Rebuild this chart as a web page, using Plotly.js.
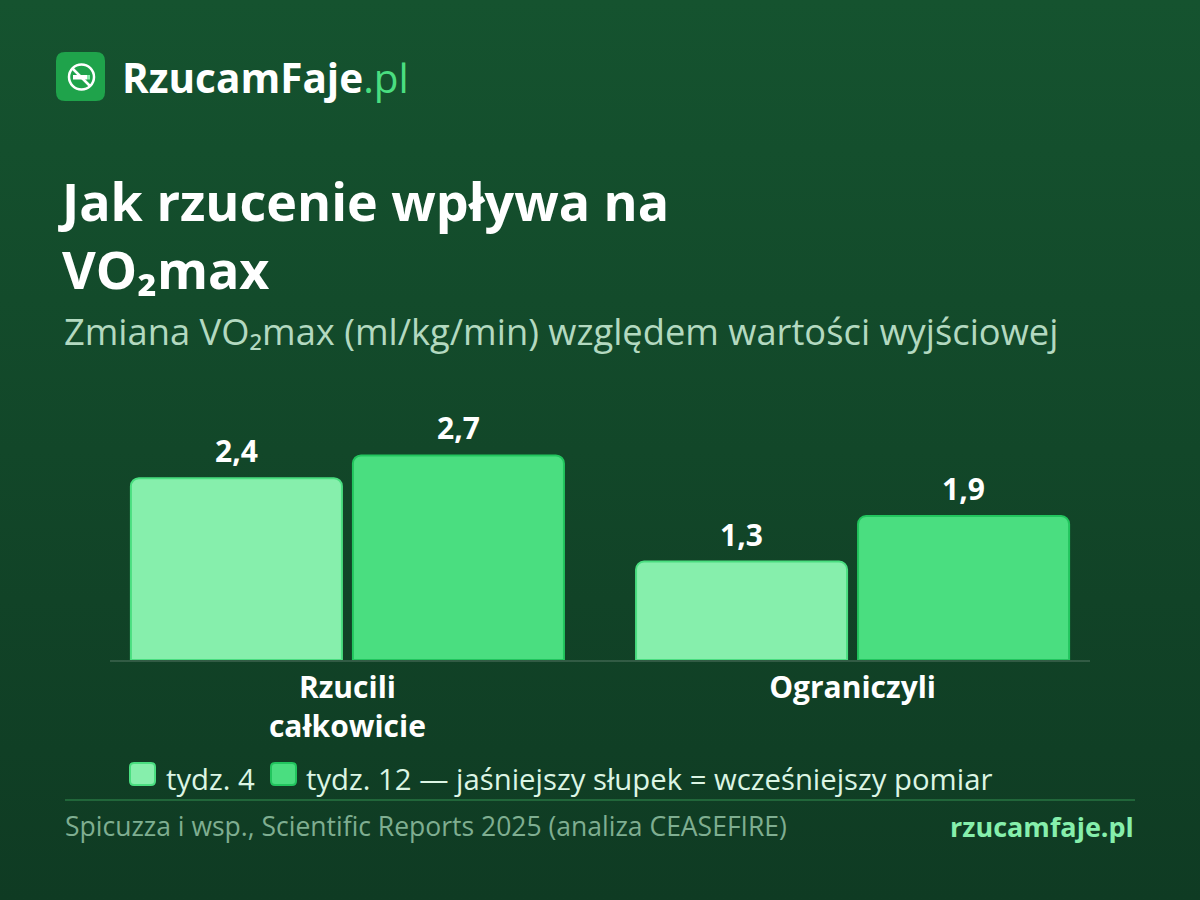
<!DOCTYPE html>
<html>
<head>
<meta charset="utf-8">
<script src="https://cdn.plot.ly/plotly-3.0.1.min.js"></script>
<style>
  html, body { margin: 0; padding: 0; }
  body { width: 1200px; height: 900px; background: linear-gradient(180deg, #15532f 0%, #0f3b23 100%); }
  #chart { width: 1200px; height: 900px; }
</style>
</head>
<body>
<div id="chart"></div>
<script>
// data
const categories = ['Rzucili<br>całkowicie', 'Ograniczyli'];
const week4 = [2.4, 1.3];
const week12 = [2.7, 1.9];
const seriesNames = ['tydz. 4', 'tydz. 12 — jaśniejszy słupek = wcześniejszy pomiar'];

const FONT = '"Open Sans", "Noto Sans", sans-serif';
const W = 1200, H = 900;
const M = { l: 110, r: 110, t: 410, b: 240 };
const pw = W - M.l - M.r, ph = H - M.t - M.b;
// pixel -> paper helpers
const fx = x => (x - M.l) / pw;
const fy = y => (H - M.b - y) / ph;

function roundRect(x0, y0, x1, y1, r) {
  const P = (x, y) => fx(x) + ',' + fy(y);
  return 'M' + P(x0 + r, y0) + ' L' + P(x1 - r, y0) + ' Q' + P(x1, y0) + ' ' + P(x1, y0 + r) +
    ' L' + P(x1, y1 - r) + ' Q' + P(x1, y1) + ' ' + P(x1 - r, y1) +
    ' L' + P(x0 + r, y1) + ' Q' + P(x0, y1) + ' ' + P(x0, y1 - r) +
    ' L' + P(x0, y0 + r) + ' Q' + P(x0, y0) + ' ' + P(x0 + r, y0) + ' Z';
}

const light = '#86efac', lightEdge = '#4ade80';
const dark = '#4ade80', darkEdge = '#22c55e';

const data = [
  {
    type: 'bar', name: seriesNames[0], x: categories, y: week4,
    marker: { color: light, line: { color: lightEdge, width: 2 }, cornerradius: 8 },
    hoverinfo: 'skip'
  },
  {
    type: 'bar', name: seriesNames[1], x: categories, y: week12,
    marker: { color: dark, line: { color: darkEdge, width: 2 }, cornerradius: 8 },
    hoverinfo: 'skip'
  }
];

const annotations = [];
// value labels above bars
[week4, week12].forEach((vals, s) => {
  vals.forEach((v, i) => {
    annotations.push({
      xref: 'x', yref: 'y', x: categories[i], y: v,
      text: '<b>' + v.toFixed(1).replace('.', ',') + '</b>',
      showarrow: false, xanchor: 'center', yanchor: 'bottom',
      xshift: s === 0 ? -111 : 111, yshift: 5,
      font: { family: FONT, size: 30, color: '#ffffff' }
    });
  });
});

function label(px, py, text, size, color, anchor) {
  annotations.push({
    xref: 'paper', yref: 'paper', x: fx(px), y: fy(py), text: text,
    showarrow: false, xanchor: anchor || 'left', yanchor: 'middle',
    font: { family: FONT, size: size, color: color }
  });
}

// header brand
label(120, 77, '<b>RzucamFaje</b><span style="color:#4ade80">.pl</span>', 40.5, '#ffffff');
// subtitle
label(62, 331, 'Zmiana VO₂max (ml/kg/min) względem wartości wyjściowej', 36.3, '#b3d9c0');
// legend
label(164, 779, seriesNames[0], 29.3, '#dcf5e4');
label(304, 779, seriesNames[1], 29.3, '#dcf5e4');
// footer
label(63, 826, 'Spicuzza i wsp., Scientific Reports 2025 (analiza CEASEFIRE)', 26.5, '#7fae91');
label(1136, 826, '<b>rzucamfaje.pl</b>', 27, '#86efac', 'right');

const shapes = [
  // logo box
  { type: 'path', xref: 'paper', yref: 'paper', path: roundRect(56, 52, 105, 101, 9), fillcolor: '#1fa34b', line: { width: 0 } },
  // no-smoking icon
  { type: 'circle', xref: 'paper', yref: 'paper', x0: fx(69), x1: fx(94), y0: fy(64.5), y1: fy(89.5), line: { color: '#ffffff', width: 2.5 } },
  { type: 'rect', xref: 'paper', yref: 'paper', x0: fx(73), x1: fx(87), y0: fy(75), y1: fy(79.5), fillcolor: '#ffffff', line: { width: 0 } },
  { type: 'rect', xref: 'paper', yref: 'paper', x0: fx(87), x1: fx(90), y0: fy(75), y1: fy(79.5), fillcolor: '#86efac', line: { width: 0 } },
  { type: 'line', xref: 'paper', yref: 'paper', x0: fx(72.5), y0: fy(68.5), x1: fx(90.5), y1: fy(86.5), line: { color: '#ffffff', width: 2.5 } },
  // legend swatches
  { type: 'path', xref: 'paper', yref: 'paper', path: roundRect(130, 763, 155, 785, 4), fillcolor: light, line: { color: lightEdge, width: 2 } },
  { type: 'path', xref: 'paper', yref: 'paper', path: roundRect(271, 763, 296, 785, 4), fillcolor: dark, line: { color: darkEdge, width: 2 } },
  // footer divider
  { type: 'line', xref: 'paper', yref: 'paper', x0: fx(65), x1: fx(1135), y0: fy(800), y1: fy(800), line: { color: '#21663a', width: 2 } }
];

const layout = {
  width: W, height: H,
  margin: M,
  paper_bgcolor: 'rgba(0,0,0,0)',
  plot_bgcolor: 'rgba(0,0,0,0)',
  font: { family: FONT, color: '#ffffff' },
  title: {
    text: '<b>Jak rzucenie wpływa na<br>VO₂max</b>',
    xref: 'container', yref: 'container',
    x: 62 / W, xanchor: 'left',
    y: 1 - 221 / H, yanchor: 'top',
    font: { family: FONT, size: 52, color: '#ffffff' }
  },
  showlegend: false,
  barmode: 'group',
  bargap: 0.121,
  bargroupgap: 0.0495,
  xaxis: {
    type: 'category',
    range: [-0.47, 1.47],
    showline: true, linecolor: 'rgba(255,255,255,0.14)', linewidth: 2,
    showgrid: false, zeroline: false, ticks: '',
    tickfont: { family: FONT, size: 30, color: '#ffffff', weight: 'bold' },
    fixedrange: true
  },
  yaxis: {
    range: [0, 3.3],
    showgrid: false, zeroline: false, showticklabels: false, showline: false,
    fixedrange: true
  },
  annotations: annotations,
  shapes: shapes
};

Plotly.newPlot('chart', data, layout, { displayModeBar: false, staticPlot: true });
</script>
</body>
</html>
